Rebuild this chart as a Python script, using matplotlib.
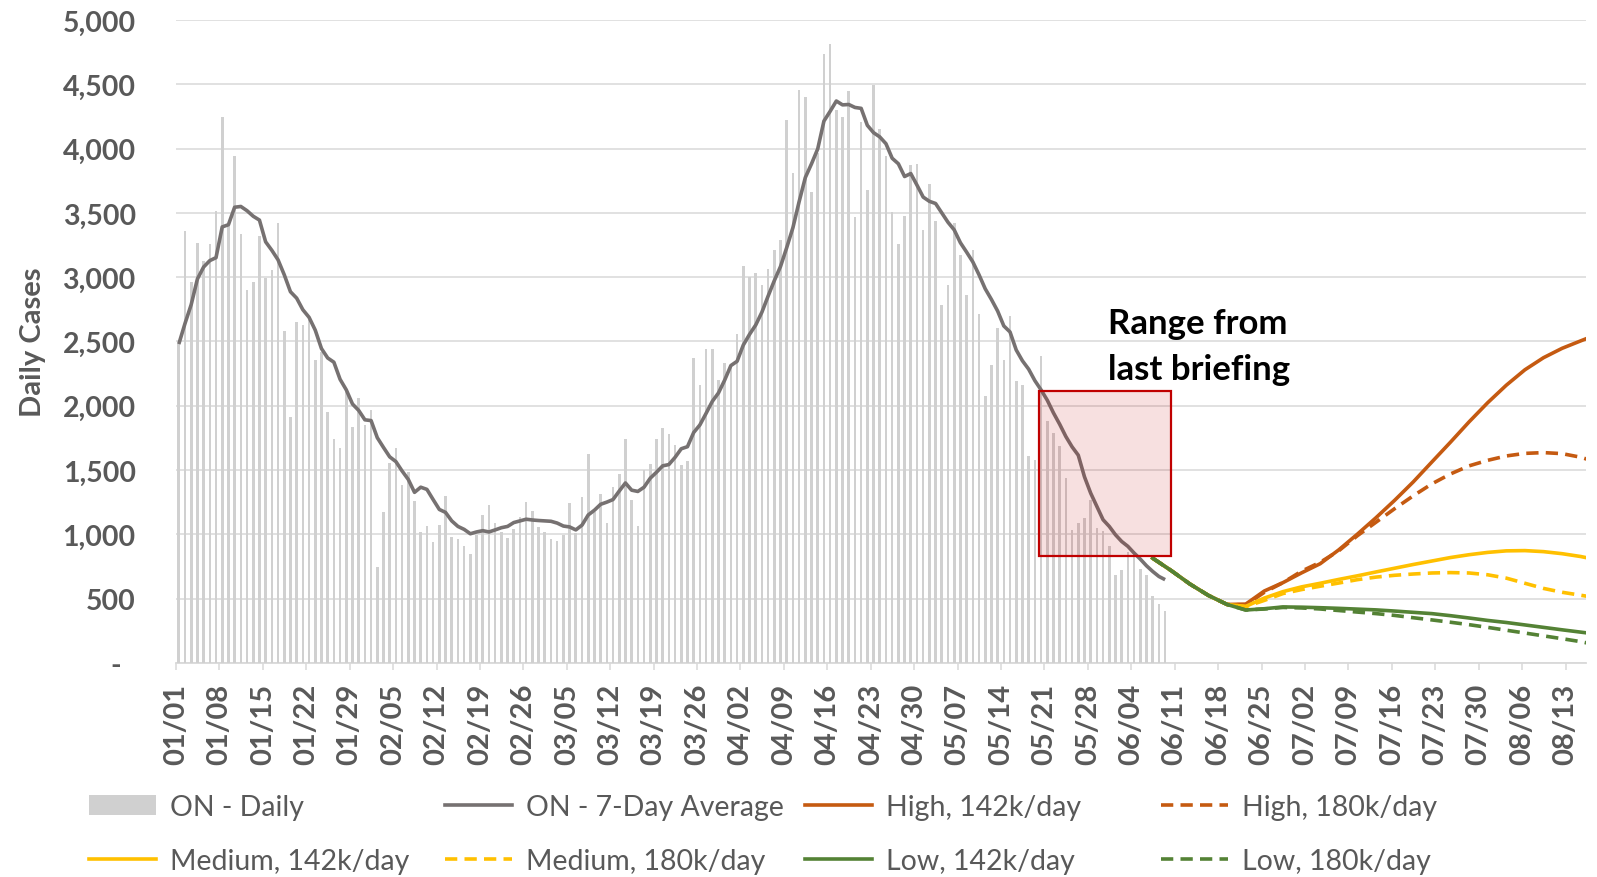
import matplotlib
matplotlib.use('Agg')
import matplotlib.pyplot as plt
from matplotlib.patches import Rectangle, Patch
from matplotlib.lines import Line2D

plt.rcParams['font.family'] = ['Lato', 'DejaVu Sans']

# ---------------- data ----------------
daily_cases = [
    2480, 3358, 2963, 3268, 3126, 3262, 3517, 4244, 3400, 3942,
    3335, 2900, 2960, 3318, 2993, 3056, 3421, 2578, 1911, 2651,
    2628, 2671, 2356, 2419, 1954, 1739, 1669, 2107, 1835, 2057,
    1851, 1964, 747, 1171, 1559, 1669, 1387, 1483, 1261, 1019,
    1068, 942, 1072, 1301, 979, 962, 906, 846, 995, 1151,
    1228, 1085, 1019, 972, 1045, 1135, 1254, 1185, 1055, 1019,
    962, 952, 995, 1244, 1012, 1294, 1626, 1178, 1311, 1085,
    1367, 1467, 1742, 1267, 1068, 1503, 1550, 1742, 1825, 1782,
    1692, 1543, 1569, 2372, 2163, 2445, 2439, 2200, 2329, 2306,
    2555, 3086, 3003, 3036, 2936, 3062, 3209, 3291, 4224, 3809,
    4453, 4400, 3666, 3965, 4735, 4811, 4300, 4247, 4446, 3467,
    4204, 3676, 4496, 4150, 3942, 3507, 3262, 3474, 3872, 3882,
    3368, 3726, 3434, 2787, 2943, 3418, 3169, 2863, 3209, 2711,
    2074, 2319, 2605, 2356, 2700, 2189, 2163, 1606, 1580, 2388,
    1878, 1787, 1684, 1437, 1031, 1088, 1127, 1264, 1049, 1023,
    907, 686, 725, 860, 860, 730, 686, 518, 461, 401,
]

avg_7day = [
    2480, 2640, 2787, 2986, 3079, 3129, 3152, 3391, 3408, 3544,
    3550, 3517, 3474, 3444, 3275, 3209, 3135, 3019, 2887, 2837,
    2747, 2688, 2588, 2445, 2372, 2339, 2206, 2124, 2014, 1964,
    1891, 1885, 1752, 1676, 1603, 1566, 1493, 1427, 1327, 1367,
    1350, 1271, 1194, 1171, 1105, 1062, 1039, 1005, 1019, 1029,
    1019, 1035, 1052, 1062, 1092, 1105, 1118, 1112, 1108, 1105,
    1102, 1088, 1065, 1058, 1035, 1072, 1151, 1188, 1234, 1251,
    1271, 1337, 1400, 1344, 1334, 1367, 1437, 1483, 1533, 1543,
    1599, 1666, 1682, 1792, 1851, 1941, 2034, 2100, 2200, 2313,
    2346, 2472, 2555, 2628, 2728, 2853, 2973, 3083, 3230, 3385,
    3587, 3775, 3882, 3998, 4214, 4290, 4370, 4340, 4343, 4320,
    4313, 4181, 4124, 4091, 4038, 3925, 3882, 3783, 3806, 3716,
    3623, 3590, 3573, 3500, 3427, 3368, 3268, 3195, 3119, 3019,
    2910, 2827, 2737, 2621, 2574, 2434, 2350, 2285, 2196, 2124,
    2044, 1945, 1857, 1761, 1681, 1616, 1448, 1321, 1217, 1114,
    1062, 997, 945, 907, 855, 808, 756, 712, 673, 648,
]

proj_days = [157, 160, 163, 166, 169, 172, 175, 178, 181, 184, 187, 190, 193,
             196, 199, 202, 205, 208, 211, 214, 217, 220, 223, 226, 227]
high_142 = [815, 718, 614, 525, 455, 458, 560, 625, 701, 772, 880, 1002, 1130,
            1265, 1408, 1563, 1717, 1875, 2024, 2160, 2280, 2374, 2447, 2505, 2524]
high_180 = [815, 718, 614, 525, 455, 452, 550, 625, 714, 783, 873, 990, 1095,
            1200, 1300, 1393, 1470, 1533, 1576, 1610, 1630, 1636, 1628, 1600, 1585]
med_142 = [815, 718, 614, 525, 455, 440, 505, 555, 592, 620, 650, 678, 708,
           737, 766, 793, 820, 842, 860, 872, 874, 866, 850, 828, 818]
med_180 = [815, 718, 614, 525, 455, 438, 487, 540, 571, 597, 622, 648, 668,
           682, 692, 700, 703, 700, 686, 660, 620, 580, 550, 527, 519]
low_142 = [815, 718, 614, 525, 455, 412, 422, 436, 434, 430, 425, 419, 413,
           404, 394, 384, 368, 350, 331, 315, 296, 277, 258, 240, 234]
low_180 = [815, 718, 614, 525, 455, 412, 420, 432, 428, 420, 408, 396, 384,
           370, 352, 335, 317, 298, 277, 255, 233, 211, 189, 166, 156]

x_tick_labels = ['01/01', '01/08', '01/15', '01/22', '01/29', '02/05', '02/12',
                 '02/19', '02/26', '03/05', '03/12', '03/19', '03/26', '04/02',
                 '04/09', '04/16', '04/23', '04/30', '05/07', '05/14', '05/21',
                 '05/28', '06/04', '06/11', '06/18', '06/25', '07/02', '07/09',
                 '07/16', '07/23', '07/30', '08/06', '08/13']
y_ticks = [0, 500, 1000, 1500, 2000, 2500, 3000, 3500, 4000, 4500, 5000]
y_tick_labels = ['-  ', '500', '1,000', '1,500', '2,000', '2,500', '3,000',
                 '3,500', '4,000', '4,500', '5,000']

box_days = (139.15, 160.4)
box_cases = (830, 2115)
box_text = "Range from\nlast briefing"

# ---------------- styling ----------------
GRAY_TXT = '#595959'
GRID = '#d9d9d9'
BAR = '#d0d0d0'
AVG = '#767171'
ORANGE = '#c55a11'
YELLOW = '#ffc000'
GREEN = '#548235'
LW = 2.6
DASH = (0, (3.4, 2.0))
OFF = 0.45

W, H = 1597, 878
fig = plt.figure(figsize=(W / 100, H / 100), dpi=100)
ax = fig.add_axes([176 / W, 1 - 664 / H, (1586 - 176) / W, (664 - 21) / H])

x_obs = [d + OFF for d in range(len(daily_cases))]
x_proj = [d + OFF for d in proj_days]

ax.bar(x_obs, daily_cases, width=0.42, color=BAR, zorder=2, linewidth=0)
ax.plot(x_obs, avg_7day, color=AVG, lw=LW, zorder=4, solid_capstyle='butt')
ax.plot(x_proj, high_142, color=ORANGE, lw=LW, zorder=4)
ax.plot(x_proj, high_180, color=ORANGE, lw=LW, ls=DASH, zorder=4)
ax.plot(x_proj, med_142, color=YELLOW, lw=LW, zorder=4)
ax.plot(x_proj, med_180, color=YELLOW, lw=LW, ls=DASH, zorder=4)
ax.plot(x_proj, low_142, color=GREEN, lw=LW, zorder=4)
ax.plot(x_proj, low_180, color=GREEN, lw=LW, ls=DASH, zorder=4)

rect = Rectangle((box_days[0], box_cases[0]), box_days[1] - box_days[0],
                 box_cases[1] - box_cases[0], facecolor=(0.753, 0.0, 0.0, 0.12),
                 edgecolor='#c00000', linewidth=1.6, zorder=5)
ax.add_patch(rect)
ax.text(150.3, 2765, box_text, fontsize=25, fontweight='bold', color='black',
        ha='left', va='top', linespacing=1.52, zorder=6)

ax.set_xlim(0, 227.3)
ax.set_ylim(0, 5000)
ax.set_xticks(list(range(0, 7 * len(x_tick_labels), 7)))
ax.set_xticklabels(x_tick_labels, rotation=90, fontsize=21, fontweight='bold',
                   color=GRAY_TXT)
ax.set_yticks(y_ticks)
ax.set_yticklabels(y_tick_labels, fontsize=20.5, fontweight='bold', color=GRAY_TXT)
ax.tick_params(axis='x', length=5, width=1.1, color=GRID, pad=9)
ax.tick_params(axis='y', length=0, pad=29)
ax.yaxis.grid(True, color=GRID, lw=1.1, zorder=0)
ax.set_axisbelow(True)
for s in ['left', 'right', 'top']:
    ax.spines[s].set_visible(False)
ax.spines['bottom'].set_color(GRID)
ax.spines['bottom'].set_linewidth(1.3)
ax.spines['bottom'].set_zorder(1)

ax.set_ylabel('Daily Cases', fontsize=21, fontweight='bold', color=GRAY_TXT)
ax.yaxis.set_label_coords(-0.092, 0.5)

# ---------------- legend ----------------
h_daily = Patch(facecolor=BAR, edgecolor='none')
h_avg = Line2D([], [], color=AVG, lw=LW)
h_h142 = Line2D([], [], color=ORANGE, lw=LW)
h_h180 = Line2D([], [], color=ORANGE, lw=LW, ls=DASH)
h_m142 = Line2D([], [], color=YELLOW, lw=LW)
h_m180 = Line2D([], [], color=YELLOW, lw=LW, ls=DASH)
h_l142 = Line2D([], [], color=GREEN, lw=LW)
h_l180 = Line2D([], [], color=GREEN, lw=LW, ls=DASH)

columns = [
    ([h_daily, h_m142], ['ON - Daily', 'Medium, 142k/day'], 88.6),
    ([h_avg, h_m180], ['ON - 7-Day Average', 'Medium, 180k/day'], 445),
    ([h_h142, h_l142], ['High, 142k/day', 'Low, 142k/day'], 804.6),
    ([h_h180, h_l180], ['High, 180k/day', 'Low, 180k/day'], 1161),
]
for handles, labels, xpx in columns:
    leg = fig.legend(handles, labels, loc='upper left',
                     bbox_to_anchor=(xpx / W, 1 - 795 / H),
                     frameon=False, fontsize=20.5, handlelength=2.35,
                     handleheight=0.7, handletextpad=0.5, labelspacing=0.98,
                     borderpad=0, borderaxespad=0, labelcolor=GRAY_TXT)

fig.savefig('out.png', dpi=100)
